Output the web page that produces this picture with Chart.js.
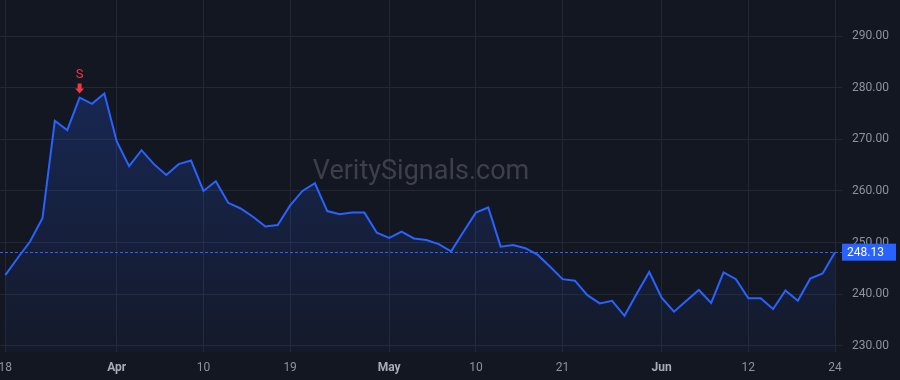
<!DOCTYPE html>
<html>
<head>
<meta charset="utf-8">
<script src="https://cdn.jsdelivr.net/npm/chart.js@4.4.1/dist/chart.umd.min.js"></script>
<style>
html,body{margin:0;padding:0;background:#131722;}
#wrap{width:900px;height:380px;}
</style>
</head>
<body>
<div id="wrap"><canvas id="c" width="900" height="380"></canvas></div>
<script>
// Trading days (2024) from Mar 18 to Jun 24
const dates = [
  'Mar 18','Mar 19','Mar 20','Mar 21','Mar 22','Mar 25','Mar 26','Mar 27','Mar 28',
  'Apr 1','Apr 2','Apr 3','Apr 4','Apr 5','Apr 8','Apr 9','Apr 10','Apr 11','Apr 12','Apr 15','Apr 16','Apr 17','Apr 18','Apr 19','Apr 22','Apr 23','Apr 24','Apr 25','Apr 26','Apr 29','Apr 30',
  'May 1','May 2','May 3','May 6','May 7','May 8','May 9','May 10','May 13','May 14','May 15','May 16','May 17','May 20','May 21','May 22','May 23','May 24','May 28','May 29','May 30','May 31',
  'Jun 3','Jun 4','Jun 5','Jun 6','Jun 7','Jun 10','Jun 11','Jun 12','Jun 13','Jun 14','Jun 17','Jun 18','Jun 20','Jun 21','Jun 24'
];
const prices = [
  243.7, 247.0, 250.2, 254.7, 273.6, 271.8, 278.1, 276.9, 278.9,
  269.6, 264.8, 267.9, 265.2, 263.1, 265.2, 265.9, 260.0, 261.9, 257.7, 256.6, 255.0, 253.1, 253.4, 257.2, 260.0, 261.5, 256.1, 255.5, 255.8, 255.8, 251.9,
  250.9, 252.1, 250.8, 250.5, 249.7, 248.3, 252.1, 255.8, 256.8, 249.2, 249.5, 248.9, 247.6, 245.3, 242.9, 242.6, 239.8, 238.2, 238.7, 235.8, 240.1, 244.3,
  239.3, 236.6, 238.7, 240.8, 238.3, 244.2, 242.9, 239.2, 239.2, 237.1, 240.7, 238.7, 243.0, 244.0, 248.13
];
const tickDates = ['Mar 18','Apr 1','Apr 10','Apr 19','May 1','May 10','May 21','Jun 3','Jun 12','Jun 24'];
const tickLabels = ['18','Apr','10','19','May','10','21','Jun','12','24'];
const monthLabels = ['Apr','May','Jun'];
const yTicks = [230, 240, 250, 260, 270, 280, 290];
const lastPrice = 248.13;
const signalDate = 'Mar 26';
const signalText = 'S';
const watermark = 'VeritySignals.com';

const points = prices.map((p, i) => ({x: i, y: p}));
const tickIdx = tickDates.map(d => dates.indexOf(d));
const FONT = 'Roboto, "Liberation Sans", sans-serif';

const bgPlugin = {
  id: 'bg',
  beforeDraw(chart) {
    const ctx = chart.ctx;
    ctx.save();
    ctx.fillStyle = '#131722';
    ctx.fillRect(0, 0, chart.width, chart.height);
    ctx.restore();
  },
  beforeDatasetsDraw(chart) {
    const ctx = chart.ctx, a = chart.chartArea, y = chart.scales.y;
    ctx.save();
    ctx.font = '27px ' + FONT;
    ctx.fillStyle = '#3d404b';
    ctx.textAlign = 'center';
    ctx.textBaseline = 'middle';
    ctx.fillText(watermark, (a.left + a.right) / 2, (a.top + a.bottom) / 2 - 4);
    // dotted last price line
    const py = Math.round(y.getPixelForValue(lastPrice)) + 0.5;
    ctx.strokeStyle = '#2962ff';
    ctx.lineWidth = 1;
    ctx.setLineDash([3, 2]);
    ctx.beginPath();
    ctx.moveTo(a.left, py);
    ctx.lineTo(a.right, py);
    ctx.stroke();
    ctx.restore();
  },
  afterDraw(chart) {
    const ctx = chart.ctx, a = chart.chartArea, x = chart.scales.x, y = chart.scales.y;
    ctx.save();
    // signal marker
    const si = dates.indexOf(signalDate);
    const sx = x.getPixelForValue(si);
    const sy = y.getPixelForValue(prices[si]);
    ctx.fillStyle = '#f23645';
    ctx.font = '13px ' + FONT;
    ctx.textAlign = 'center';
    ctx.textBaseline = 'middle';
    ctx.fillText(signalText, sx, sy - 23);
    const tip = sy - 4;
    ctx.beginPath();
    ctx.moveTo(sx - 2, tip - 10);
    ctx.lineTo(sx + 2, tip - 10);
    ctx.lineTo(sx + 2, tip - 5);
    ctx.lineTo(sx + 4.5, tip - 5);
    ctx.lineTo(sx, tip);
    ctx.lineTo(sx - 4.5, tip - 5);
    ctx.lineTo(sx - 2, tip - 5);
    ctx.closePath();
    ctx.fill();
    // price box
    const py = y.getPixelForValue(lastPrice);
    ctx.fillStyle = '#2962ff';
    ctx.fillRect(a.right, py - 8.5, 54, 17);
    ctx.fillStyle = '#ffffff';
    ctx.font = '12px ' + FONT;
    ctx.textAlign = 'left';
    ctx.fillText(lastPrice.toFixed(2), a.right + 5, py + 0.5);
    ctx.restore();
  }
};

const ctx = document.getElementById('c').getContext('2d');
new Chart(ctx, {
  type: 'line',
  data: {
    datasets: [{
      data: points,
      borderColor: '#2962ff',
      borderWidth: 2,
      pointRadius: 0,
      tension: 0,
      fill: 'start',
      backgroundColor(context) {
        const a = context.chart.chartArea;
        if (!a) return 'rgba(41,98,255,0.1)';
        const g = context.chart.ctx.createLinearGradient(0, a.top + 90, 0, a.bottom);
        g.addColorStop(0, 'rgba(41,98,255,0.22)');
        g.addColorStop(1, 'rgba(41,98,255,0.04)');
        return g;
      }
    }]
  },
  options: {
    responsive: false,
    animation: false,
    layout: {padding: 0},
    plugins: {legend: {display: false}, tooltip: {enabled: false}},
    scales: {
      x: {
        type: 'linear',
        min: -0.428,
        max: 67.565,
        afterBuildTicks(scale) { scale.ticks = tickIdx.map(v => ({value: v})); },
        afterFit(scale) { scale.height = 28; scale.paddingLeft = 0; scale.paddingRight = 0; },
        grid: {color: '#242833', drawTicks: false, lineWidth: 1},
        border: {display: false},
        ticks: {
          padding: 9,
          maxRotation: 0,
          autoSkip: false,
          color(c) { return monthLabels.includes(tickLabels[tickIdx.indexOf(c.tick.value)]) ? '#a9acb5' : '#8f929b'; },
          font(c) {
            const lab = tickLabels[tickIdx.indexOf(c.tick && c.tick.value)];
            return {family: FONT, size: 12, weight: monthLabels.includes(lab) ? 'bold' : 'normal'};
          },
          callback(v) { const k = tickIdx.indexOf(v); return k >= 0 ? tickLabels[k] : ''; }
        }
      },
      y: {
        position: 'right',
        min: 228.78,
        max: 297.02,
        afterBuildTicks(scale) { scale.ticks = yTicks.map(v => ({value: v})); },
        afterFit(scale) { scale.width = 58; scale.paddingTop = 0; scale.paddingBottom = 0; },
        grid: {color: '#242833', drawTicks: false, lineWidth: 1},
        border: {display: false},
        ticks: {
          padding: 10,
          color: '#8f929b',
          font: {family: FONT, size: 12},
          callback(v) { return Number(v).toFixed(2); }
        }
      }
    }
  },
  plugins: [bgPlugin]
});
</script>
</body>
</html>
